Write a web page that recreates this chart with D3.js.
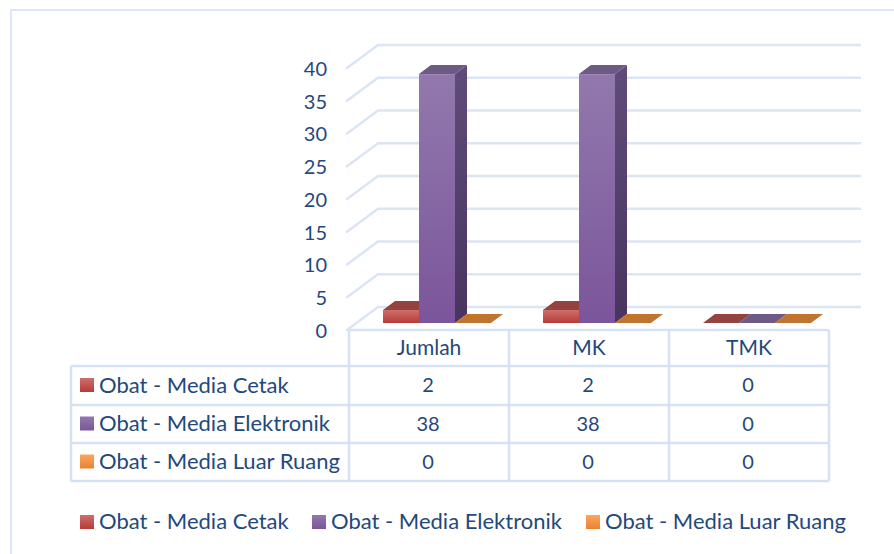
<!DOCTYPE html>
<html>
<head>
<meta charset="utf-8">
<script src="https://cdn.jsdelivr.net/npm/d3@7"></script>
<style>
  html, body { margin: 0; padding: 0; background: #fff; overflow: hidden; }
  text { font-family: Lato, "Open Sans", sans-serif; fill: #1f497d; }
</style>
</head>
<body>
<div id="chart"></div>
<script>
const categories = ["Jumlah", "MK", "TMK"];
const seriesNames = ["Obat - Media Cetak", "Obat - Media Elektronik", "Obat - Media Luar Ruang"];
const cetak = [2, 2, 0];
const elektronik = [38, 38, 0];
const luarRuang = [0, 0, 0];
const yTicks = [0, 5, 10, 15, 20, 25, 30, 35, 40];

const seriesValues = [cetak, elektronik, luarRuang];
const front = ["#b93b37", "#7b559b", "#e9812f"];
const frontLight = ["#cd6f6b", "#9279ad", "#fba75e"];
const topFace = ["#954341", "#6d5a85", "#c0742e"];
const sideFace = ["#8c3230", "#493460", "#a8611f"];
const sideLight = ["#9c4a48", "#5f4c78", "#b8702e"];
const gridColor = "#dbe5f3";
const lineColor = "#d5e2f4";

const width = 894, height = 554;
const svg = d3.select("#chart").append("svg")
    .attr("width", width)
    .attr("height", height);

// gradients for bars and swatches
const defs = svg.append("defs");
seriesNames.forEach((s, i) => {
    const g = defs.append("linearGradient")
        .attr("id", "grad" + i)
        .attr("x1", 0).attr("x2", 0).attr("y1", 0).attr("y2", 1);
    g.append("stop").attr("offset", "0%").attr("stop-color", frontLight[i]);
    g.append("stop").attr("offset", "100%").attr("stop-color", front[i]);

    const sg = defs.append("linearGradient")
        .attr("id", "side" + i)
        .attr("x1", 0).attr("x2", 0).attr("y1", 0).attr("y2", 1);
    sg.append("stop").attr("offset", "0%").attr("stop-color", sideLight[i]);
    sg.append("stop").attr("offset", "100%").attr("stop-color", sideFace[i]);
});

// outer frame, open on the right and bottom
svg.append("path")
    .attr("d", "M894,10H11V554")
    .attr("fill", "none")
    .attr("stroke", "#dce7f6")
    .attr("stroke-width", 2);

// scales
const x = d3.scaleBand().domain(categories).range([349, 829]);
const inner = d3.scaleBand().domain(d3.range(3)).range([34, 142]);
const y = d3.scaleLinear().domain([0, 40]).range([330, 68]);

// floor depth of the whole chart and of a single bar
const wallDx = 31, wallDy = -23;
const barDx = 12, barDy = -9;
const barBase = -7; // bars stand a little behind the front edge

// gridlines, side wall and back wall
const grid = svg.append("g");
yTicks.forEach(t => {
    grid.append("path")
        .attr("d", `M347,${y(t)}L${347 + wallDx},${y(t) + wallDy}H860`)
        .attr("fill", "none")
        .attr("stroke", gridColor)
        .attr("stroke-width", 2.5)
        .attr("stroke-linecap", "round");
});

// y axis
const yAxis = d3.axisLeft(y).tickValues(yTicks).tickSize(0).tickPadding(0);
const yG = svg.append("g")
    .attr("transform", "translate(327,1)")
    .call(yAxis);
yG.select(".domain").remove();
yG.selectAll("text").attr("font-size", 20).style("font-family", "Lato, sans-serif");

// bars
const bars = svg.append("g");
categories.forEach((c, ci) => {
    seriesValues.forEach((vals, si) => {
        const v = vals[ci];
        const x0 = x(c) + inner(si);
        const w = inner.bandwidth();
        const yBase = y(0) + barBase;
        const yTop = y(v) + barBase;
        const h = yBase - yTop;
        if (h > 0) {
            bars.append("rect")
                .attr("x", x0).attr("y", yTop)
                .attr("width", w).attr("height", h)
                .attr("fill", `url(#grad${si})`);
            bars.append("path")
                .attr("d", `M${x0 + w},${yTop}l${barDx},${barDy}V${yBase + barDy}L${x0 + w},${yBase}Z`)
                .attr("fill", `url(#side${si})`);
        }
        bars.append("path")
            .attr("d", `M${x0},${yTop}l${barDx},${barDy}h${w}l${-barDx},${-barDy}Z`)
            .attr("fill", topFace[si]);
    });
});

// data table
const tableLeft = 71;
const rowLines = [330, 366, 405, 443, 481];
const xEdges = [x(categories[0]), x(categories[1]), x(categories[2]), x(categories[2]) + x.bandwidth()];
const table = svg.append("g")
    .attr("fill", "none")
    .attr("stroke", lineColor)
    .attr("stroke-width", 2.5);
rowLines.forEach((ry, i) => {
    table.append("line")
        .attr("x1", i === 0 ? xEdges[0] : tableLeft).attr("x2", xEdges[3])
        .attr("y1", ry).attr("y2", ry);
});
xEdges.forEach(ex => {
    table.append("line")
        .attr("x1", ex).attr("x2", ex)
        .attr("y1", rowLines[0]).attr("y2", rowLines[4]);
});
table.append("line")
    .attr("x1", tableLeft).attr("x2", tableLeft)
    .attr("y1", rowLines[1]).attr("y2", rowLines[4]);

const midY = i => (rowLines[i] + rowLines[i + 1]) / 2 + 6.5;
categories.forEach((c, ci) => {
    svg.append("text")
        .attr("x", x(c) + x.bandwidth() / 2)
        .attr("y", midY(0))
        .attr("text-anchor", "middle")
        .attr("font-size", 21)
        .text(c);
    seriesValues.forEach((vals, si) => {
        svg.append("text")
            .attr("x", x(c) + x.bandwidth() / 2 - 1)
            .attr("y", midY(si + 1))
            .attr("text-anchor", "middle")
            .attr("font-size", 20)
            .text(vals[ci]);
    });
});

seriesNames.forEach((s, si) => {
    svg.append("rect")
        .attr("x", 80).attr("y", midY(si + 1) - 14)
        .attr("width", 14).attr("height", 14)
        .attr("fill", `url(#grad${si})`);
    svg.append("text")
        .attr("x", 99).attr("y", midY(si + 1) + 0.5)
        .attr("font-size", 22)
        .text(s);
});

// legend
const legendSwatch = [80, 312, 586];
seriesNames.forEach((s, si) => {
    svg.append("rect")
        .attr("x", legendSwatch[si]).attr("y", 515)
        .attr("width", 14).attr("height", 14)
        .attr("fill", `url(#grad${si})`);
    svg.append("text")
        .attr("x", legendSwatch[si] + 19).attr("y", 529)
        .attr("font-size", 22)
        .text(s);
});
</script>
</body>
</html>
